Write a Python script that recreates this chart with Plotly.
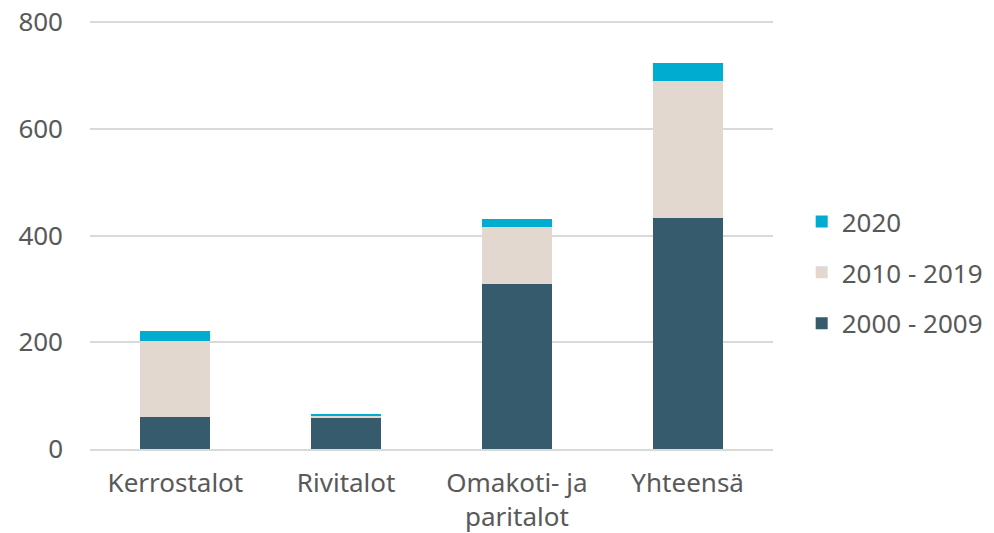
import plotly.graph_objects as go

categories = ["Kerrostalot", "Rivitalot", "Omakoti- ja<br>paritalot", "Yhteensä"]
v_2000_2009 = [60, 59, 309, 433]
v_2010_2019 = [143, 3, 107, 256]
v_2020 = [18, 3, 15, 34]

# name, values, colour, legend rank (2020 on top of the legend)
series = [
    ("2000 - 2009", v_2000_2009, "#365b6d", 3),
    ("2010 - 2019", v_2010_2019, "#e3d8d0", 2),
    ("2020", v_2020, "#00acd0", 1),
]

TEXT = "#595959"
FONT = "Noto Sans"
SIZE = 26

fig = go.Figure()
for name, vals, color, rank in series:
    fig.add_trace(go.Bar(
        x=categories, y=vals, name=name, legendgroup=name, legendrank=rank,
        marker=dict(color=color, line=dict(width=0)),
    ))

fig.update_layout(
    barmode="stack",
    bargap=0.59,
    width=994, height=533,
    margin=dict(l=90, r=221, t=21, b=84, autoexpand=False),
    paper_bgcolor="white",
    plot_bgcolor="white",
    font=dict(family=FONT, size=SIZE, color=TEXT),
    legend=dict(
        x=1.042, y=0.412, xanchor="left", yanchor="middle",
        traceorder="grouped", tracegroupgap=14,
        font=dict(family=FONT, size=SIZE, color=TEXT),
        itemwidth=30,
    ),
    xaxis=dict(
        showgrid=False, showline=True, linecolor="#d9d9d9", linewidth=2,
        ticks="", tickfont=dict(size=SIZE), automargin=False,
        ticklabelstandoff=10,
    ),
    yaxis=dict(
        range=[0, 802], tickvals=[0, 200, 400, 600, 800],
        showgrid=True, gridcolor="#d9d9d9", gridwidth=1.5,
        zeroline=False, ticks="", ticklabelstandoff=26,
        tickfont=dict(size=SIZE), automargin=False,
    ),
)

# drop the default page margin so the figure fills the window exactly
fig.write_html(
    "out.html",
    config={"displayModeBar": False},
    post_script="document.body.style.margin='0';document.body.style.overflow='hidden';",
)
